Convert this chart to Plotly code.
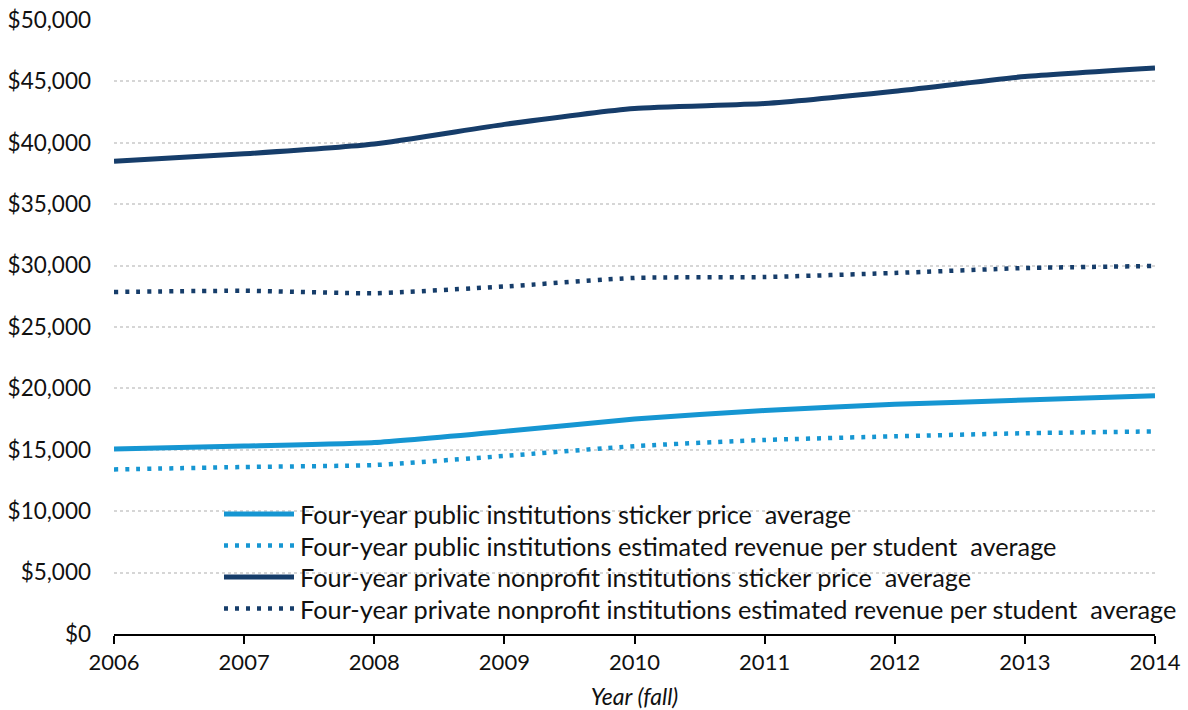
import plotly.graph_objects as go

years = [2006, 2007, 2008, 2009, 2010, 2011, 2012, 2013, 2014]
public_sticker = [15070, 15300, 15600, 16500, 17500, 18200, 18700, 19050, 19400]
public_revenue = [13400, 13600, 13760, 14500, 15300, 15800, 16100, 16350, 16500]
private_sticker = [38500, 39100, 39900, 41500, 42800, 43200, 44200, 45400, 46100]
private_revenue = [27850, 27950, 27750, 28300, 29000, 29070, 29400, 29800, 29970]

names = [
    "Four-year public institutions sticker price\u00a0 average",
    "Four-year public institutions estimated revenue per student\u00a0 average",
    "Four-year private nonprofit institutions sticker price\u00a0 average",
    "Four-year private nonprofit institutions estimated revenue per student\u00a0 average",
]
y_ticks = [0, 5000, 10000, 15000, 20000, 25000, 30000, 35000, 40000, 45000, 50000]
y_labels = ["$0", "$5,000", "$10,000", "$15,000", "$20,000", "$25,000", "$30,000",
            "$35,000", "$40,000", "$45,000", "$50,000"]

CYAN = "#1696d2"
NAVY = "#163d6a"
DOT = "4px,7px"

W, H = 1188, 710
ML, MR, MT, MB = 114, 33, 20, 76
PW, PH = W - ML - MR, H - MT - MB

def px_x(px):
    return (px - ML) / PW

def px_y(py):
    return (H - MB - py) / PH

fig = go.Figure()
series = [
    (public_sticker, names[0], CYAN, "solid", 5),
    (public_revenue, names[1], CYAN, DOT, 4.5),
    (private_sticker, names[2], NAVY, "solid", 5),
    (private_revenue, names[3], NAVY, DOT, 4.5),
]
for vals, name, color, dash, w in series:
    fig.add_trace(go.Scatter(
        x=years, y=vals, name=name, mode="lines", showlegend=False,
        line=dict(color=color, dash=dash, width=w, shape="spline", smoothing=0.5),
    ))

# legend drawn as shapes + annotations
legend_rows = [514, 545.5, 577, 608.5]
shapes, annots = [], []
for (vals, name, color, dash, w), row in zip(series, legend_rows):
    shapes.append(dict(
        type="line", xref="paper", yref="paper",
        x0=px_x(224), x1=px_x(294), y0=px_y(row), y1=px_y(row),
        line=dict(color=color, width=w, dash=dash),
    ))
    annots.append(dict(
        xref="paper", yref="paper", x=px_x(298), y=px_y(row),
        xanchor="left", yanchor="middle", showarrow=False, text=name,
        font=dict(family="Lato", size=25.3, color="#111111"),
    ))

fig.update_layout(
    width=W, height=H,
    margin=dict(l=ML, r=MR, t=MT, b=MB),
    paper_bgcolor="white", plot_bgcolor="white",
    font=dict(family="Lato", size=22, color="#111111"),
    showlegend=False,
    shapes=shapes, annotations=annots,
    xaxis=dict(
        range=[2006, 2014], tickvals=years, ticktext=[str(y) for y in years],
        showgrid=False, showline=True, linecolor="black", linewidth=2,
        ticks="outside", ticklen=8, tickwidth=2, tickcolor="black",
        zeroline=False, automargin=False,
        title=dict(text="<i>Year (fall)</i>", font=dict(family="Lato", size=23), standoff=14),
        tickfont=dict(family="Lato", size=22),
    ),
    yaxis=dict(
        range=[0, 50000], tickvals=y_ticks, ticktext=y_labels,
        showgrid=True, gridcolor="#d6d6d6", gridwidth=2, griddash="dot",
        zeroline=False, showline=False, ticks="", ticklabelstandoff=22,
        automargin=False,
        tickfont=dict(family="Lato", size=22.5),
    ),
)

fig.write_html("out.html")
